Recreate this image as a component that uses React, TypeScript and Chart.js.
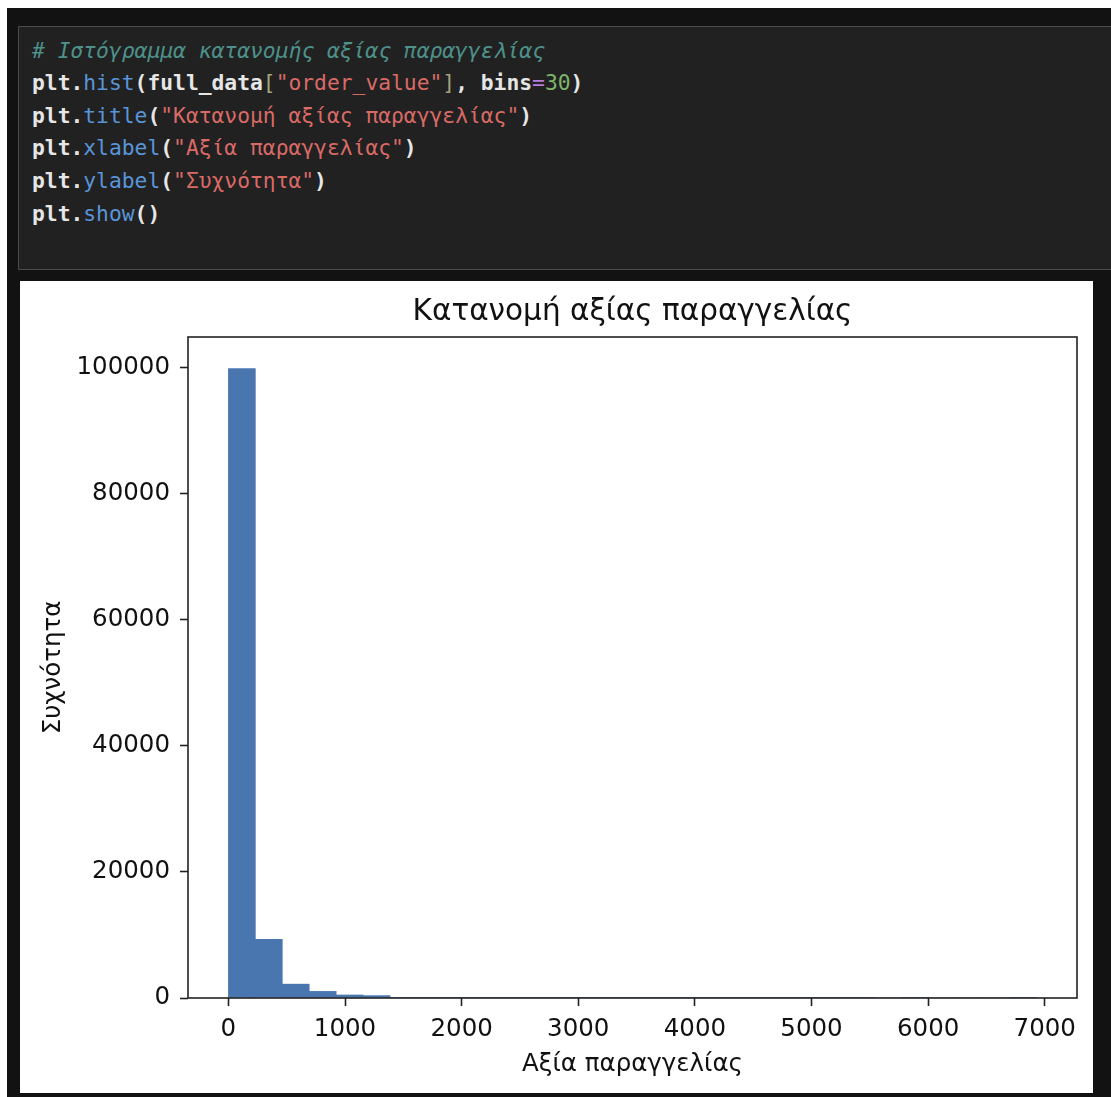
import React, { useEffect, useRef } from "react";
import { Chart, registerables } from "chart.js";

Chart.register(...registerables);

// ---- data ----
const chartTitle = "Κατανομή αξίας παραγγελίας";
const xLabel = "Αξία παραγγελίας";
const yLabel = "Συχνότητα";

const binEdges = [
  0, 231, 462, 693, 924, 1155, 1386, 1617, 1848, 2079, 2310, 2541, 2772, 3003, 3234, 3465,
  3696, 3927, 4158, 4389, 4620, 4851, 5082, 5313, 5544, 5775, 6006, 6237, 6468, 6699, 6930,
];
const binCounts = [
  99900, 9300, 2200, 1050, 480, 380, 45, 30, 20, 14, 10, 8, 6, 5, 4,
  3, 3, 2, 2, 1, 1, 1, 1, 1, 0, 1, 0, 0, 0, 1,
];
const xTicks = [0, 1000, 2000, 3000, 4000, 5000, 6000, 7000];
const yTicks = [0, 20000, 40000, 60000, 80000, 100000];
const xMin = -346.5;
const xMax = 7276.5;
const yMax = 104900;

const codeLines: { t: string; c: string; b?: boolean; i?: boolean }[][] = [
  [{ t: "# Ιστόγραμμα κατανομής αξίας παραγγελίας", c: "#4d918a", i: true }],
  [
    { t: "plt.", c: "#e6e6e6", b: true },
    { t: "hist", c: "#5a95d8" },
    { t: "(full_data", c: "#e6e6e6", b: true },
    { t: "[", c: "#a3a37a" },
    { t: "\"order_value\"", c: "#d96a66" },
    { t: "]", c: "#a3a37a" },
    { t: ", bins", c: "#e6e6e6", b: true },
    { t: "=", c: "#b77fdc" },
    { t: "30", c: "#7fb56a" },
    { t: ")", c: "#e6e6e6", b: true },
  ],
  [
    { t: "plt.", c: "#e6e6e6", b: true },
    { t: "title", c: "#5a95d8" },
    { t: "(", c: "#e6e6e6", b: true },
    { t: "\"Κατανομή αξίας παραγγελίας\"", c: "#d96a66" },
    { t: ")", c: "#e6e6e6", b: true },
  ],
  [
    { t: "plt.", c: "#e6e6e6", b: true },
    { t: "xlabel", c: "#5a95d8" },
    { t: "(", c: "#e6e6e6", b: true },
    { t: "\"Αξία παραγγελίας\"", c: "#d96a66" },
    { t: ")", c: "#e6e6e6", b: true },
  ],
  [
    { t: "plt.", c: "#e6e6e6", b: true },
    { t: "ylabel", c: "#5a95d8" },
    { t: "(", c: "#e6e6e6", b: true },
    { t: "\"Συχνότητα\"", c: "#d96a66" },
    { t: ")", c: "#e6e6e6", b: true },
  ],
  [
    { t: "plt.", c: "#e6e6e6", b: true },
    { t: "show", c: "#5a95d8" },
    { t: "()", c: "#e6e6e6", b: true },
  ],
];

const FONT = "'DejaVu Sans', 'Noto Sans', sans-serif";

const framePlugin = {
  id: "frame",
  afterDatasetsDraw(chart: any) {
    const { ctx, chartArea } = chart;
    const { left, top, right, bottom } = chartArea;
    ctx.save();
    ctx.strokeStyle = "#222";
    ctx.lineWidth = 1.6;
    ctx.strokeRect(left, top, right - left, bottom - top);
    ctx.restore();
  },
};

function Histogram() {
  const ref = useRef<HTMLCanvasElement>(null);
  useEffect(() => {
    if (!ref.current) return;
    const points = binCounts.map((c, i) => ({ x: (binEdges[i] + binEdges[i + 1]) / 2, y: c }));
    const tickStyle = { font: { family: FONT, size: 24.5 }, color: "#111" };
    const chart = new Chart(ref.current, {
      type: "bar",
      data: {
        datasets: [
          {
            data: points as any,
            backgroundColor: "#4a76b0",
            borderWidth: 0,
            barPercentage: 1,
            categoryPercentage: 1,
          },
        ],
      },
      options: {
        animation: false,
        responsive: false,
        devicePixelRatio: 1,
        layout: { padding: { left: 0, right: 16, top: 0, bottom: 0 } },
        plugins: {
          legend: { display: false },
          tooltip: { enabled: false },
          title: {
            display: true,
            text: chartTitle,
            fullSize: false,
            color: "#111",
            font: { family: FONT, size: 29.5, weight: "normal" },
            padding: { top: 14, bottom: 6.6 },
          },
        },
        scales: {
          x: {
            type: "linear",
            offset: false,
            min: xMin,
            max: xMax,
            afterBuildTicks: (scale: any) => {
              scale.ticks = xTicks.map((v) => ({ value: v }));
            },
            afterFit: (scale: any) => {
              scale.height = 95;
            },
            ticks: { ...tickStyle, padding: 9, maxRotation: 0, autoSkip: false, callback: (v: any) => String(v) },
            grid: { display: true, offset: false, drawOnChartArea: false, drawTicks: true, tickLength: 8, tickColor: "#222", tickWidth: 1.6 },
            border: { display: false },
            title: {
              display: true,
              text: xLabel,
              color: "#111",
              font: { family: FONT, size: 24.5 },
              padding: { top: 0, bottom: 14 },
            },
          },
          y: {
            type: "linear",
            min: 0,
            max: yMax,
            afterBuildTicks: (scale: any) => {
              scale.ticks = yTicks.map((v) => ({ value: v }));
            },
            afterFit: (scale: any) => {
              scale.width = 168;
            },
            ticks: { ...tickStyle, padding: 10, autoSkip: false, callback: (v: any) => String(v) },
            grid: { display: true, drawOnChartArea: false, drawTicks: true, tickLength: 8, tickColor: "#222", tickWidth: 1.6 },
            border: { display: false },
            title: {
              display: true,
              text: yLabel,
              color: "#111",
              font: { family: FONT, size: 24.5 },
              padding: { top: 19, bottom: 0 },
            },
          },
        },
      } as any,
      plugins: [framePlugin],
    });
    return () => chart.destroy();
  }, []);
  return <canvas ref={ref} width={1073} height={812} style={{ display: "block", width: 1073, height: 812 }} />;
}

export default function App() {
  return (
    <div
      style={{
        position: "absolute",
        left: 7,
        top: 8,
        width: 1104,
        height: 1089,
        background: "#121212",
        overflow: "hidden",
      }}
    >
      <div
        style={{
          position: "absolute",
          left: 11,
          top: 18,
          width: 1110,
          height: 242,
          background: "#212121",
          border: "1px solid #4a4a4a",
        }}
      >
        <pre
          style={{
            position: "absolute",
            left: 13,
            top: 7.6,
            margin: 0,
            fontFamily: "'DejaVu Sans Mono', 'Liberation Mono', monospace",
            fontSize: 21.3,
            lineHeight: "32.6px",
            color: "#e6e6e6",
          }}
        >
          {codeLines.map((line, li) => (
            <div key={li}>
              {line.map((s, si) => (
                <span
                  key={si}
                  style={{
                    color: s.c,
                    fontWeight: s.b ? "bold" : "normal",
                    fontStyle: s.i ? "italic" : "normal",
                  }}
                >
                  {s.t}
                </span>
              ))}
            </div>
          ))}
        </pre>
      </div>
      <div
        style={{
          position: "absolute",
          left: 13,
          top: 273,
          width: 1073,
          height: 812,
          background: "#ffffff",
        }}
      >
        <Histogram />
      </div>
    </div>
  );
}
